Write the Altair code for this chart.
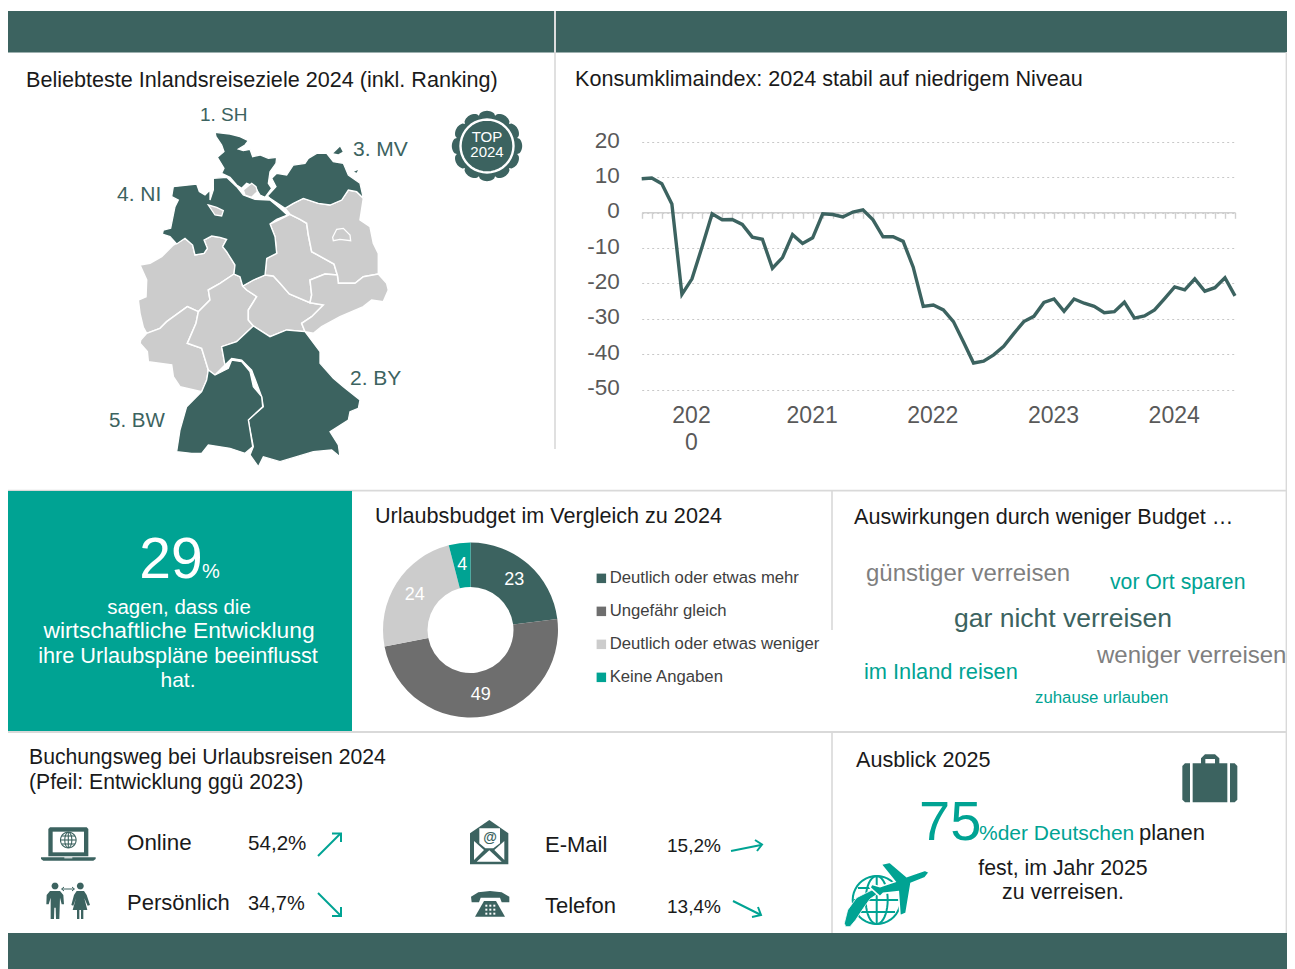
import math
import altair as alt
import pandas as pd

# ---------- data ----------
climate = [9.6, 9.8, 8.2, 2.5, -23.1, -18.7, -9.7, -0.3, -2.0, -1.9, -3.3, -6.9, -7.5, -15.7, -12.7, -6.2,
           -8.7, -7.1, -0.3, -0.5, -1.2, 0.2, 0.8, -2.0, -6.8, -6.8, -8.1, -15.4, -26.5, -26.1, -27.5, -30.8,
           -36.6, -42.5, -42.0, -40.2, -37.8, -34.2, -30.8, -29.3, -25.4, -24.4, -27.9, -24.4, -25.6, -26.5,
           -28.3, -28.0, -25.3, -29.8, -29.2, -27.5, -24.3, -21.0, -21.8, -18.7, -22.2, -21.2, -18.4, -23.5]
budget_labels = ["Deutlich oder etwas mehr", "Ungefähr gleich", "Deutlich oder etwas weniger", "Keine Angaben"]
budget_values = [23, 49, 24, 4]

DARK = "#3C6360"
TEAL = "#00A393"
GRAY = "#CCCCCC"
MID = "#6E6E6E"
INK = "#1A1A1A"
WORD = "#7F7F7F"
FONT = "Liberation Sans"
W, H = 1279, 961
PROJ = alt.Projection(type="identity", scale=1, translate=[-8, -8])
layers = []


def shape(polys, fill=None, stroke=None, sw=0.0, kind="Polygon"):
    feats = []
    for p in polys:
        coords = [[list(q) for q in p] + [list(p[0])]] if kind == "Polygon" else [list(q) for q in p]
        feats.append({"type": "Feature", "properties": {}, "geometry": {"type": kind, "coordinates": coords}})
    data = alt.InlineData(values={"type": "FeatureCollection", "features": feats},
                          format=alt.DataFormat(type="json", property="features"))
    kw = {}
    if fill:
        kw["fill"] = fill
        kw["filled"] = True
    else:
        kw["filled"] = False
        kw["fill"] = "transparent"
    kw["stroke"] = stroke if stroke else "transparent"
    kw["strokeWidth"] = sw
    layers.append(alt.Chart(data).mark_geoshape(**kw).project(**PROJ.to_dict()))


def lines(polys, stroke, sw):
    shape(polys, None, stroke, sw, "LineString")


def text(t, x, y, size=21.6, color=INK, align="left", weight="normal"):
    layers.append(alt.Chart(pd.DataFrame({"t": [t]})).mark_text(
        font=FONT, fontSize=size, color=color, align=align, baseline="alphabetic", fontWeight=weight
    ).encode(x=alt.value(x - 8), y=alt.value(y - 8), text="t:N"))


def rect(x0, y0, x1, y1, color):
    layers.append(alt.Chart(pd.DataFrame({"a": [1]})).mark_rect(color=color).encode(
        x=alt.value(x0 - 8), x2=alt.value(x1 - 8), y=alt.value(y0 - 8), y2=alt.value(y1 - 8)))


def circ(cx, cy, r, n=48):
    return [(cx + r * math.cos(2 * math.pi * i / n), cy + r * math.sin(2 * math.pi * i / n)) for i in range(n)]


def ell(cx, cy, rx, ry, n=40):
    pts = [(cx + rx * math.cos(2 * math.pi * i / n), cy + ry * math.sin(2 * math.pi * i / n)) for i in range(n)]
    return pts + [pts[0]]


def frame(x0, y0):
    return lambda pts: [(x0 + a / 3, y0 + b / 3) for a, b in pts]


# ---------- panel frames ----------
rect(0, 11, 1293, 52.5, DARK)
rect(0, 933, 1293, 969, DARK)
rect(554, 11, 556, 52.5, "#DDDDDD")
rect(554.2, 52, 555.8, 449, "#D9D9D9")
rect(0, 489.8, 1293, 491.6, "#D9D9D9")
rect(0, 731, 1293, 733, "#D9D9D9")
rect(831.2, 491, 832.8, 630, "#D9D9D9")
rect(831.2, 732, 832.8, 933, "#D9D9D9")
rect(1285.6, 52, 1287, 933, "#D9D9D9")
rect(8, 491, 352, 731, TEAL)

# ---------- map ----------
Z = frame(130, 120)
NRW = [(30, 435), (60, 430), (95, 410), (130, 375), (165, 355), (188, 375), (195, 405), (222, 400), (232, 385), (222, 360),
       (245, 348), (270, 352), (290, 358), (278, 380), (290, 395), (315, 435), (312, 462), (270, 490), (235, 510), (240, 540),
       (205, 575), (172, 560), (110, 605), (90, 625), (50, 640), (40, 622), (30, 580), (25, 540), (48, 530), (50, 480)]
RLP = [(32, 660), (50, 640), (90, 625), (110, 605), (172, 560), (205, 575), (198, 610), (172, 670), (215, 685), (235, 750),
       (230, 780), (215, 815), (150, 800), (130, 770), (125, 735), (55, 725), (52, 695), (30, 670)]
HE = [(235, 510), (270, 490), (312, 462), (330, 470), (338, 498), (350, 510), (380, 530), (355, 570), (355, 600), (370, 618),
      (320, 665), (275, 680), (285, 735), (255, 765), (235, 750), (215, 685), (172, 670), (198, 610), (205, 575), (240, 540)]
TH = [(338, 498), (370, 480), (405, 465), (430, 468), (450, 490), (478, 522), (540, 548), (580, 555), (545, 590), (515, 610),
      (525, 635), (470, 630), (420, 650), (370, 618), (355, 600), (355, 570), (380, 530), (350, 510)]
ST = [(420, 312), (450, 298), (480, 283), (510, 298), (530, 310), (535, 345), (545, 395), (612, 432), (622, 465), (585, 462),
      (540, 480), (545, 525), (540, 548), (478, 522), (450, 490), (430, 468), (405, 465), (410, 415), (440, 400), (435, 350)]
BB = [(465, 265), (490, 250), (520, 235), (565, 250), (600, 255), (635, 240), (655, 210), (680, 215), (700, 235), (690, 300),
      (720, 320), (730, 370), (745, 400), (745, 462), (700, 470), (675, 490), (625, 490), (622, 465), (612, 432), (545, 395),
      (535, 345), (530, 310), (510, 298), (480, 283)]
SN = [(540, 480), (585, 462), (622, 465), (625, 490), (675, 490), (700, 470), (745, 462), (770, 490), (775, 510), (760, 545),
      (725, 540), (700, 560), (630, 590), (575, 620), (550, 640), (525, 635), (515, 610), (545, 590), (580, 555), (540, 548),
      (545, 525)]
BE = [(608, 352), (620, 328), (640, 325), (660, 345), (662, 362), (630, 358), (610, 362)]
HH = [(340, 210), (365, 190), (378, 200), (382, 215), (365, 232), (345, 225)]
HB = [(235, 255), (260, 262), (280, 272), (275, 288), (255, 285)]
SH = [(255, 37), (300, 42), (330, 50), (355, 62), (345, 75), (325, 87), (340, 92), (360, 88), (368, 110), (390, 105), (415, 115),
      (440, 112), (438, 130), (420, 155), (415, 190), (425, 205), (405, 232), (390, 225), (375, 200), (350, 190), (335, 205),
      (320, 195), (300, 172), (275, 160), (282, 145), (262, 112), (282, 95), (275, 75), (258, 50)]
MV = [(440, 160), (470, 165), (490, 135), (525, 130), (535, 115), (560, 100), (590, 100), (610, 125), (640, 130), (655, 165),
      (690, 190), (700, 235), (680, 215), (655, 210), (635, 240), (600, 255), (565, 250), (520, 235), (490, 250), (465, 265),
      (420, 235), (412, 228), (438, 200), (425, 175)]
MV2 = [(610, 100), (630, 80), (638, 95), (625, 103)]
MV3 = [(672, 155), (684, 150), (680, 158)]
NI = [(250, 175), (290, 172), (320, 200), (340, 225), (375, 238), (420, 240), (450, 265), (472, 285), (440, 298), (420, 312),
      (435, 350), (440, 400), (410, 415), (405, 465), (370, 480), (338, 498), (330, 470), (312, 462), (315, 435), (290, 395),
      (278, 380), (290, 358), (270, 352), (245, 348), (222, 360), (232, 385), (222, 400), (195, 405), (188, 375), (165, 355),
      (140, 372), (120, 350), (97, 342), (100, 330), (122, 325), (135, 260), (145, 240), (125, 230), (130, 200), (200, 192),
      (208, 215), (225, 225), (240, 210), (240, 240), (250, 210)]
BY = [(370, 618), (420, 650), (470, 630), (525, 635), (570, 695), (570, 730), (610, 775), (640, 800), (690, 840), (685, 865),
      (660, 875), (655, 900), (600, 935), (625, 975), (630, 1010), (605, 990), (550, 995), (450, 1025), (400, 1010), (385, 1040),
      (360, 1005), (370, 980), (355, 900), (400, 860), (395, 830), (365, 750), (335, 720), (305, 715), (285, 735), (275, 680),
      (320, 665)]
BW = [(235, 750), (255, 765), (295, 745), (305, 720), (335, 725), (360, 755), (370, 800), (395, 830), (398, 860), (355, 900),
      (368, 980), (345, 1000), (300, 985), (235, 975), (215, 1000), (185, 1000), (140, 995), (150, 930), (170, 860), (215, 815),
      (230, 780)]
shape([Z(p) for p in [NRW, RLP, HE, TH, ST, BB, SN]], GRAY, "#FFFFFF", 1.5)
shape([Z(p) for p in [SH, MV, NI, BY, BW]], DARK, "#FFFFFF", 1.3)
shape([Z(p) for p in [MV2, MV3]], DARK)
shape([Z(p) for p in [BE, HH, HB]], GRAY, "#FFFFFF", 1.3)

text("Beliebteste Inlandsreiseziele 2024 (inkl. Ranking)", 26, 87)
text("1. SH", 200, 121, 19, DARK)
text("3. MV", 353, 156, 21, DARK)
text("4. NI", 117, 201, 21, DARK)
text("2. BY", 350, 385, 21, DARK)
text("5. BW", 109, 427, 20.5, DARK)

# badge
n = 144
rad = [31.2 + 4 * math.sqrt(abs(math.cos(6 * 2 * math.pi * i / n))) for i in range(n)]
badge = [(487 + rad[i] * math.cos(2 * math.pi * i / n), 146 + rad[i] * math.sin(2 * math.pi * i / n)) for i in range(n)]
shape([badge], DARK)
lines([ell(487, 146, 26.5, 26.5)], "#FFFFFF", 2.4)
text("TOP", 487, 142, 15, "#FFFFFF", "center")
text("2024", 487, 157, 15, "#FFFFFF", "center")

# ---------- consumer climate line ----------
text("Konsumklimaindex: 2024 stabil auf niedrigem Niveau", 575, 86)
df = pd.DataFrame({"i": list(range(60)), "v": climate})
xs = alt.Scale(domain=[0, 59], range=[641.7 - 8, 1235 - 8], nice=False, zero=False)
ys = alt.Scale(domain=[-50, 20], range=[389.5 - 8, 142 - 8], nice=False, zero=False)
line = alt.Chart(df).mark_line(color=DARK, strokeWidth=3.4, strokeJoin="miter", clip=False).encode(
    x=alt.X("i:Q", scale=xs, axis=alt.Axis(
        title=None, values=list(range(60)), labels=False, orient="bottom", offset=212.3 - 8 - H, tickSize=6,
        tickColor="#D0D0D0", tickWidth=1.4, domainColor="#D0D0D0", domainWidth=1.6, grid=False)),
    y=alt.Y("v:Q", scale=ys, axis=alt.Axis(
        title=None, values=[-50, -40, -30, -20, -10, 0, 10, 20], orient="left", offset=-(641.7 - 8), domain=False, ticks=False,
        labelFont=FONT, labelFontSize=22.5, labelColor="#595959", labelPadding=22.5, labelOffset=-2,
        labelExpr="'' + datum.value", labelOverlap=False, grid=True, gridColor="#C8C8C8", gridDash=[2, 3], gridWidth=1)),
)
years = alt.Chart(df).mark_line(opacity=0).encode(
    x=alt.X("i:Q", scale=xs, axis=alt.Axis(
        title=None, values=[5, 17, 29, 41, 53], orient="bottom", offset=422.5 - 8 - H, domain=False, ticks=False, grid=False,
        labelFont=FONT, labelFontSize=23, labelColor="#595959", labelPadding=0, labelBaseline="alphabetic",
        labelOverlap=False, labelLineHeight=27, labelAlign="center", labelOffset=-1,
        labelExpr="datum.value == 5 ? ['202', '0'] : '' + (2020 + (datum.value - 5) / 12)")),
    y=alt.Y("v:Q", scale=ys, axis=None),
)
layers += [line, years]

# ---------- teal panel ----------
text("29", 171, 578, 57, "#FFFFFF", "center")
text("%", 202, 578, 20, "#FFFFFF")
text("sagen, dass die", 179, 614, 20.5, "#FFFFFF", "center")
text("wirtschaftliche Entwicklung", 179, 638, 22.8, "#FFFFFF", "center")
text("ihre Urlaubspläne beeinflusst", 178, 663, 21.7, "#FFFFFF", "center")
text("hat.", 178, 687, 21, "#FFFFFF", "center")

# ---------- donut ----------
text("Urlaubsbudget im Vergleich zu 2024", 375, 523)
bd = pd.DataFrame({"k": budget_labels, "v": budget_values, "o": [0, 1, 2, 3]})
theta = alt.Theta("v:Q", stack=True, scale=alt.Scale(domain=[0, 100], range=[0, 2 * math.pi]))
layers.append(alt.Chart(bd).mark_arc(radius=87.5, radius2=43).encode(
    theta=theta, order=alt.Order("o:Q"), x=alt.value(470.5 - 8), y=alt.value(630 - 8),
    color=alt.Color("k:N", scale=alt.Scale(domain=budget_labels, range=[DARK, MID, GRAY, TEAL]),
                    legend=alt.Legend(orient="none", legendX=583, legendY=562, title=None, symbolType="square",
                                      symbolSize=90, labelFont=FONT, labelFontSize=16.7, labelColor="#404040",
                                      symbolStrokeWidth=0, rowPadding=15, labelOffset=0, symbolOffset=2, labelLimit=300))))
layers.append(alt.Chart(bd).mark_text(radius=66, font=FONT, fontSize=18, color="#FFFFFF").encode(
    theta=theta, order=alt.Order("o:Q"), x=alt.value(470.5 - 8), y=alt.value(630 - 8), text="v:Q"))

# ---------- word cloud ----------
text("Auswirkungen durch weniger Budget …", 854, 524)
text("günstiger verreisen", 866, 581, 24, WORD)
text("vor Ort sparen", 1110, 589, 21.2, TEAL)
text("gar nicht verreisen", 954, 627, 26.5, DARK)
text("weniger verreisen", 1097, 663, 24, WORD)
text("im Inland reisen", 864, 679, 21.8, TEAL)
text("zuhause urlauben", 1035, 703, 16.8, TEAL)

# ---------- booking ----------
text("Buchungsweg bei Urlaubsreisen 2024", 29, 764, 21.2)
text("(Pfeil: Entwicklung ggü 2023)", 29, 789, 21.2)
for t, x, y, s in [("Online", 127, 850, 22.4), ("54,2%", 248, 850, 20.6), ("Persönlich", 127, 910, 22), ("34,7%", 248, 910, 20),
                   ("E-Mail", 545, 852, 22), ("15,2%", 667, 852, 19), ("Telefon", 545, 913, 22), ("13,4%", 667, 913, 19)]:
    text(t, x, y, s)
lines([[(318, 856), (340, 834)], [(332, 833.5), (341, 833.5), (341, 842)],
       [(318, 893), (340, 915)], [(332, 916), (341, 916), (341, 907)],
       [(731, 851), (761, 845)], [(755, 840), (762, 844.5), (757, 851)],
       [(733, 901), (760, 914.5)], [(758, 907), (761, 915), (752, 917)]], TEAL, 2)

# laptop
L = frame(30, 815)
shape([L([(60, 37), (170, 37), (175, 42), (175, 124), (55, 124), (55, 42)]),
       L([(33, 127), (197, 127), (197, 132), (190, 137), (40, 137), (33, 132)])], DARK)
shape([L([(68, 50), (162, 50), (162, 112), (68, 112)]), L([(103, 127), (127, 127), (127, 130), (103, 130)])], "#FFFFFF")
lines([ell(68.3, 840, 7.8, 7.8), ell(68.3, 840, 3.5, 7.8), [(60.5, 840), (76, 840)], [(68.3, 832), (68.3, 848)],
       [(62, 836), (75, 836)], [(62, 844), (75, 844)]], DARK, 1.1)
# people
shape([circ(55, 886, 3.4), circ(80.3, 886, 3.4)], DARK)
shape([L([(60, 228), (90, 228), (100, 240), (102, 268), (95, 268), (90, 248), (88, 312), (78, 312), (77, 278), (73, 278), (72, 312),
          (62, 312), (62, 248), (56, 268), (49, 268), (50, 240)]),
       L([(140, 228), (162, 228), (170, 240), (180, 270), (173, 272), (163, 250), (172, 285), (160, 285), (160, 312), (153, 312),
          (153, 285), (148, 285), (148, 312), (141, 312), (141, 285), (128, 285), (138, 250), (130, 272), (124, 270), (132, 240)])], DARK)
lines([L([(95, 222), (133, 222)]), L([(102, 216), (95, 222), (102, 228)]), L([(126, 216), (133, 222), (126, 228)])], DARK, 1)
# mail
E = frame(460, 815)
shape([E([(88, 15), (145, 55), (145, 148), (30, 148), (30, 55)])], DARK)
shape([E([(58, 40), (120, 40), (120, 85), (100, 100), (76, 100), (58, 85)]), E([(42, 78), (72, 105), (42, 135)]),
       E([(133, 78), (103, 105), (133, 135)]), E([(50, 140), (88, 106), (125, 140)])], "#FFFFFF")
text("@", 490, 842, 14, DARK, "center", "bold")
# phone
shape([E([(35, 262), (33, 245), (55, 232), (90, 228), (125, 232), (148, 245), (148, 262), (125, 262), (120, 248), (62, 248), (57, 262)]),
       E([(72, 258), (108, 258), (135, 305), (45, 305)])], DARK)
shape([E([(x, y), (x + 6, y), (x + 6, y + 6), (x, y + 6)]) for x in (76, 88, 100) for y in (269, 281, 293)], "#FFFFFF")

# ---------- outlook ----------
text("Ausblick 2025", 856, 767)
text("75", 919, 840, 56, TEAL)
text("%der Deutschen", 979, 840, 21, TEAL)
text("planen", 1139, 840, 22)
text("fest, im Jahr 2025", 1063, 875, 21.3, INK, "center")
text("zu verreisen.", 1063, 899, 21.3, INK, "center")
S = frame(1170, 745)
shape([S([(45, 55), (60, 55), (60, 172), (45, 172), (37, 164), (37, 63)]), S([(68, 55), (172, 55), (172, 172), (68, 172)]),
       S([(180, 55), (194, 55), (202, 63), (202, 164), (194, 172), (180, 172)]),
       S([(93, 60), (93, 40), (105, 28), (135, 28), (148, 40), (148, 60)])], DARK)
shape([S([(106, 42), (135, 42), (135, 55), (106, 55)])], "#FFFFFF")
# globe and plane
P = frame(835, 745)
lines([ell(876.7, 900, 24, 24), ell(876.7, 900, 11, 24), [(853.7, 900), (899.7, 900)], [(876.7, 877), (876.7, 923)],
       [(858, 888), (895, 888)], [(858, 912), (895, 912)]], TEAL, 2)
shape([P([(28, 535), (38, 495), (65, 458), (115, 433), (130, 445), (105, 462), (85, 490), (62, 525), (45, 545), (32, 545)])],
      TEAL, "#FFFFFF", 0.8)
shape([P([(283, 382), (270, 376), (235, 388), (215, 395), (165, 352), (138, 358), (180, 410), (135, 425), (110, 418), (105, 428),
          (135, 455), (145, 445), (190, 440), (195, 512), (213, 505), (228, 415), (270, 398)])], TEAL, "#FFFFFF", 1.6)

chart = alt.layer(*layers).resolve_axis(x="independent", y="independent").properties(
    width=W, height=H, padding=0, autosize=alt.AutoSizeParams(type="none")
).configure_view(stroke=None)
chart.save("out.html", embed_options={"renderer": "svg", "actions": False})
